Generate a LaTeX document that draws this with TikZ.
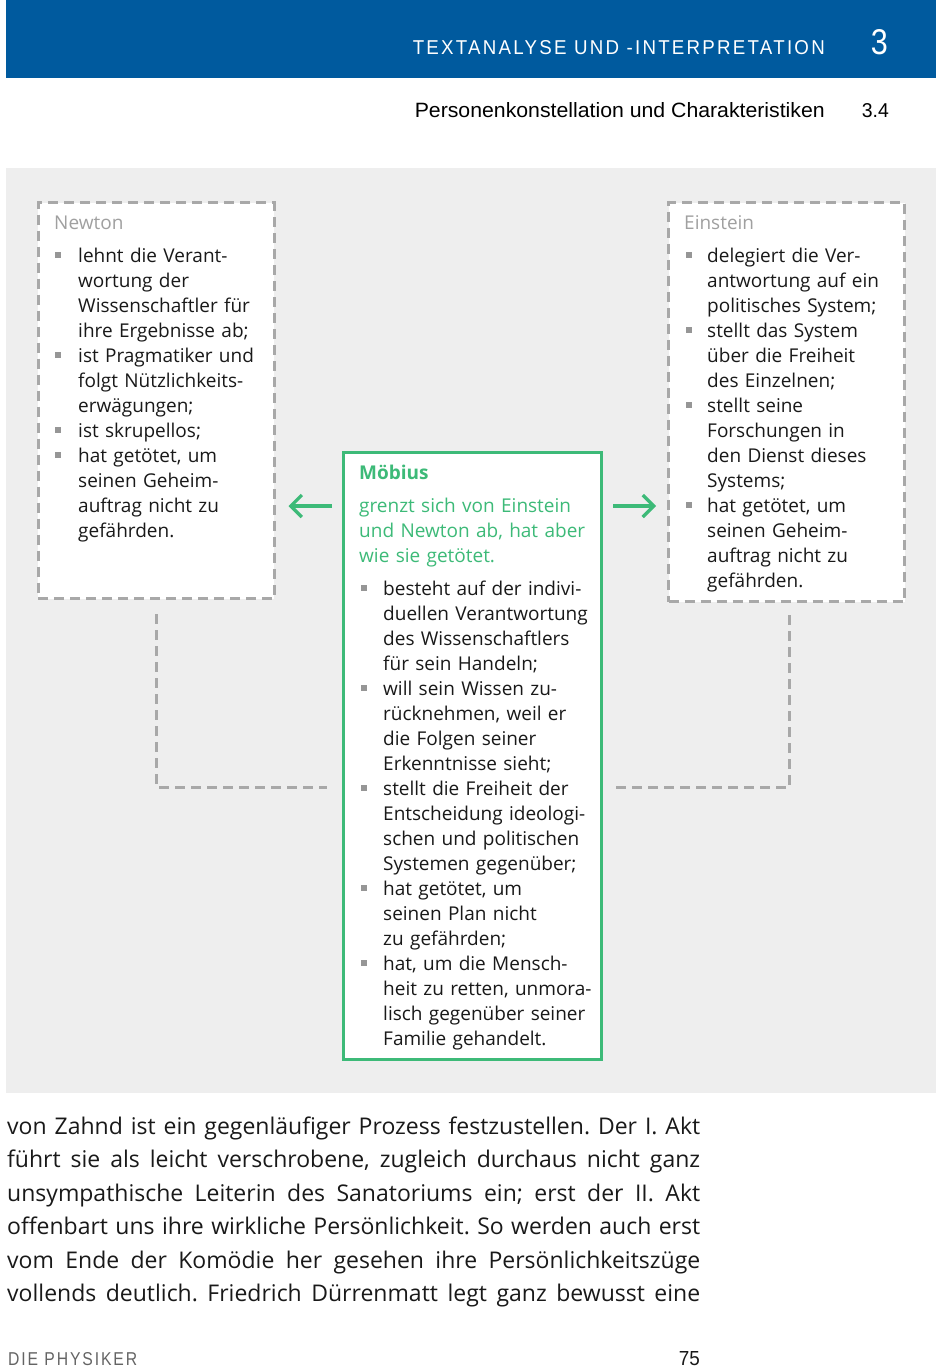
\documentclass[tikz,border=0pt]{standalone}
\usepackage{fontspec}
\setmainfont{Open Sans}
\newfontfamily\hdrfont[LetterSpace=12]{Liberation Sans}
\newfontfamily\subfont{Liberation Sans}
\usetikzlibrary{arrows.meta}
\definecolor{hdrblue}{RGB}{0,90,158}
\definecolor{bggray}{RGB}{238,238,238}
\definecolor{dashgray}{RGB}{168,168,168}
\definecolor{titlegray}{RGB}{160,160,160}
\definecolor{bulgray}{RGB}{150,150,150}
\definecolor{mgreen}{RGB}{61,186,120}
\definecolor{bodyblack}{RGB}{25,25,25}
\definecolor{footgray}{RGB}{100,100,100}
\def\bw{23pt}
\newcommand\bitem{\hangindent=\bw\hangafter=1\noindent\strut\makebox[\bw][l]{\raisebox{4.5pt}{\textcolor{bulgray}{\rule{5.5pt}{5.5pt}}}}}
\newcommand\nitem{\par\bitem}
\newcommand\jline[1]{\makebox[693pt][s]{#1}}
\tikzset{
  dbox/.style={draw=dashgray, line width=3pt, dash pattern=on 10pt off 6pt, fill=white, inner sep=0pt, anchor=north west},
  gbox/.style={draw=mgreen, line width=3pt, fill=white, inner sep=0pt, anchor=north west},
  conn/.style={draw=dashgray, line width=3pt, dash pattern=on 10pt off 6pt},
  garrow/.style={draw=mgreen, line width=3.2pt, -{Straight Barb[length=11pt,width=22pt]}},
  boxtxt/.style={inner sep=0pt, anchor=north west, text width=#1, font=\fontsize{19}{25}\selectfont, text=bodyblack},
  boxtitle/.style={inner sep=0pt, anchor=base west, font=\fontsize{19}{25}\selectfont, text=titlegray},
  plain/.style={inner sep=0pt}
}
\begin{document}
\begin{tikzpicture}[x=1pt,y=-1pt]
\useasboundingbox (0,0) rectangle (936,1368);
% header
\fill[hdrblue] (6,0) rectangle (936,78);
\node[plain, anchor=south east, text=white] (hdr) at (825,55) {\resizebox{412pt}{14pt}{\hdrfont TEXTANALYSE UND -INTERPRETATION}};
\node[plain, anchor=south east, text=white] (chap) at (888,55) {\resizebox{17pt}{25pt}{\subfont 3}};
\node[plain, anchor=south east, text=black] (sub) at (825,118) {\resizebox{410pt}{15pt}{\subfont Personenkonstellation und Charakteristiken}};
\node[plain, anchor=south east, text=black] (subnum) at (889,118) {\resizebox{27pt}{14pt}{\subfont 3.4}};
% background
\fill[bggray] (6,168) rectangle (936,1093);
% boxes
\node[dbox, minimum width=236pt, minimum height=396pt] (newton) at (36.5,201) {};
\node[dbox, minimum width=236pt, minimum height=399pt] (einstein) at (667,201) {};
\node[gbox, minimum width=258pt, minimum height=607pt] (moeb) at (342,451) {};
% connectors
\coordinate (nl) at (327,787);
\coordinate (nr) at (615,787);
\draw[conn] ([yshift=-14pt]newton.south) |- (nl);
\draw[conn] ([xshift=3pt,yshift=-12pt]einstein.south) |- (nr);
\coordinate (ay) at (0,506);
\draw[garrow, shorten <=10pt, shorten >=13pt] (moeb.west |- ay) -- (newton.east |- ay);
\draw[garrow, shorten <=10pt, shorten >=11pt] (moeb.east |- ay) -- (einstein.west |- ay);
% Newton text
\node[boxtitle] (ntitle) at (54,229) {Newton};
\node[boxtxt=214pt] (ntext) at (55,244.5) {\def\bw{23pt}%
\bitem lehnt die Verant-\newline wortung der\newline Wissenschaftler für\newline ihre Ergebnisse ab;
\nitem ist Pragmatiker und\newline folgt Nützlichkeits-\newline erwägungen;
\nitem ist skrupellos;
\nitem hat getötet, um\newline seinen Geheim-\newline auftrag nicht zu\newline gefährden.\par};
% Einstein text
\node[boxtitle] (etitle) at (684,229) {Einstein};
\node[boxtxt=214pt] (etext) at (686,244.5) {\def\bw{21pt}%
\bitem delegiert die Ver-\newline antwortung auf ein\newline politisches System;
\nitem stellt das System\newline über die Freiheit\newline des Einzelnen;
\nitem stellt seine\newline Forschungen in\newline den Dienst dieses\newline Systems;
\nitem hat getötet, um\newline seinen Geheim-\newline auftrag nicht zu\newline gefährden.\par};
% Moebius text
\node[boxtitle, text=mgreen, font=\fontsize{19}{25}\selectfont\bfseries] (mtitle) at (359,479) {Möbius};
\node[boxtxt=235pt, text=mgreen] (mintro) at (359,494.5) {\strut grenzt sich von Einstein\newline und Newton ab, hat aber\newline wie sie getötet.};
\node[boxtxt=235pt] (mtext) at (361,577.5) {\def\bw{22pt}%
\bitem besteht auf der indivi-\newline duellen Verantwortung\newline des Wissenschaftlers\newline für sein Handeln;
\nitem will sein Wissen zu-\newline rücknehmen, weil er\newline die Folgen seiner\newline Erkenntnisse sieht;
\nitem stellt die Freiheit der\newline Entscheidung ideologi-\newline schen und politischen\newline Systemen gegenüber;
\nitem hat getötet, um\newline seinen Plan nicht\newline zu gefährden;
\nitem hat, um die Mensch-\newline heit zu retten, unmora-\newline lisch gegenüber seiner\newline Familie gehandelt.\par};
% body text
\node[plain, anchor=north west, text width=693pt, text=bodyblack, font=\fontsize{23}{33.5}\selectfont] (body) at (7,1110.5) {%
\frenchspacing\spaceskip=0.26em plus 1fil\xspaceskip=0.26em plus 1fil
\noindent\strut\jline{von Zahnd ist ein gegenläufiger Prozess festzustellen. Der I. Akt}\newline
\jline{führt sie als leicht verschrobene, zugleich durchaus nicht ganz}\newline
\jline{unsympathische Leiterin des Sanatoriums ein; erst der II. Akt}\newline
\jline{offenbart uns ihre wirkliche Persönlichkeit. So werden auch erst}\newline
\jline{vom Ende der Komödie her gesehen ihre Persönlichkeitszüge}\newline
\jline{vollends deutlich. Friedrich Dürrenmatt legt ganz bewusst eine}\par};
% footer
\node[plain, anchor=south west, text=footgray] (foot) at (8,1366) {\resizebox{129pt}{13pt}{\hdrfont DIE PHYSIKER}};
\node[plain, anchor=south east, text=bodyblack] (page) at (700,1366) {\resizebox{21pt}{14pt}{\subfont 75}};
\end{tikzpicture}
\end{document}
